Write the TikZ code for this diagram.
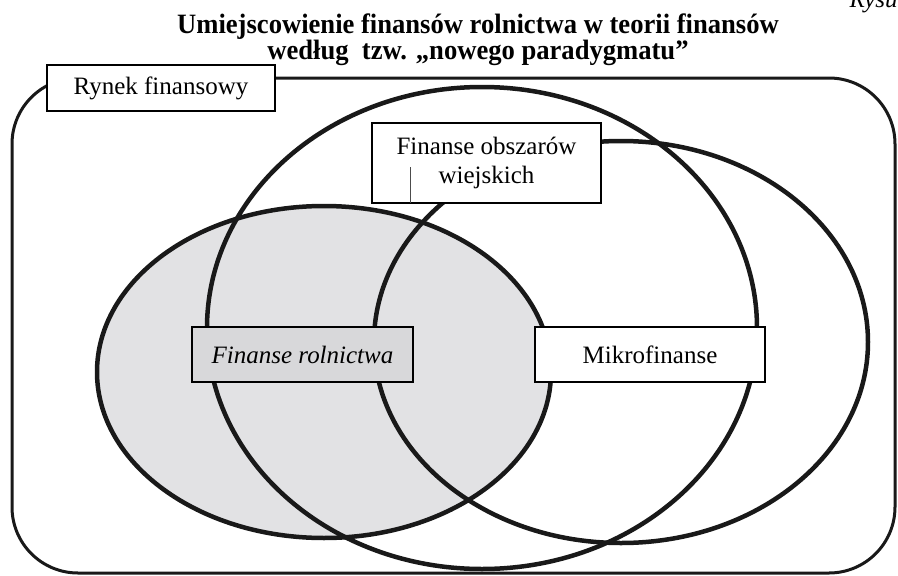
\documentclass[tikz,border=0pt]{standalone}
\usepackage{fontspec}
\setmainfont{Liberation Serif}
\usetikzlibrary{positioning}

\begin{document}
\begin{tikzpicture}[x=1pt, y=-1pt,
    ring/.style={line width=4.5pt, black!90},
    market/.style={line width=3pt, black!90, rounded corners=66pt},
    tag/.style={draw, fill=white, line width=1.2pt, inner sep=0pt, align=center,
      font=\fontsize{25}{29}\selectfont},
    head/.style={align=center, xscale=0.95, font=\bfseries\fontsize{28}{25}\selectfont}]
  \useasboundingbox (0,0) rectangle (898,576);
  \clip (0,0) rectangle (898,576);
  \definecolor{agri}{RGB}{226,226,228}
  \definecolor{agrib}{RGB}{216,216,218}

  \node [head] (title) at (478,40) {Umiejscowienie finansów rolnictwa w teorii finansów\\
    według\ \ tzw. „nowego paradygmatu”};
  \node [anchor=base west, font=\itshape\fontsize{25}{29}\selectfont] (fig) at (846,7) {Rysunek};

  \draw [market] (12,78) rectangle (895,573);

  \coordinate (rol) at (324,372);
  \coordinate (wie) at (482,328);
  \coordinate (mik) at (621,342);
  \fill [agri] (rol) ellipse [x radius=227pt, y radius=166pt];
  \draw [ring] (rol) ellipse [x radius=227pt, y radius=166pt];
  \draw [ring] (wie) ellipse [x radius=275pt, y radius=241pt];
  \draw [ring] (mik) ellipse [x radius=247pt, y radius=201pt];

  \node [tag, minimum width=228pt, minimum height=46pt] (rynek) at (161,88) {Rynek finansowy};
  \node [tag, minimum width=229pt, minimum height=80pt] (obsz) at (486.5,163) {Finanse obszarów\\wiejskich};
  \draw [black!70, line width=0.5pt] (410,167) -- (410,203);
  \node [tag, fill=agrib, line width=1.6pt, minimum width=221pt, minimum height=55pt,
    font=\itshape\fontsize{25}{29}\selectfont] (rolnictwo) at (302.5,354.5) {Finanse rolnictwa};
  \node [tag, minimum width=230pt, minimum height=55pt] (mikro) at (650,354.5) {Mikrofinanse};
\end{tikzpicture}
\end{document}
